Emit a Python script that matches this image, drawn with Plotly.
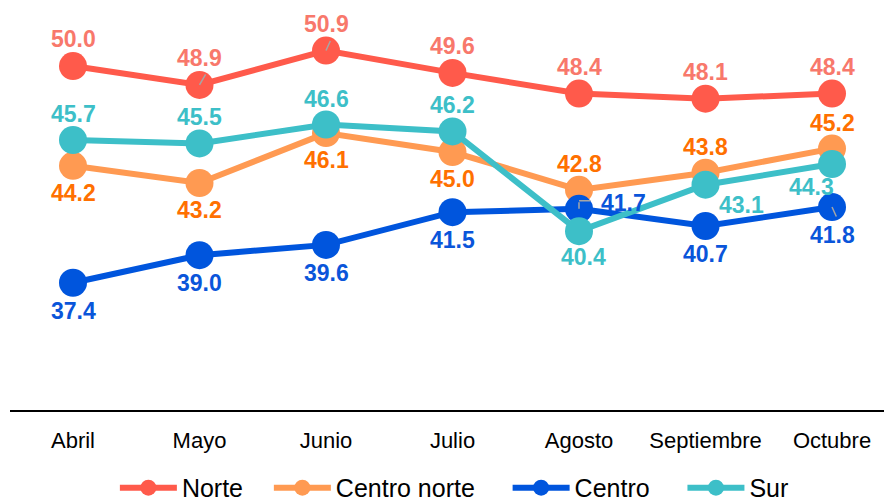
import plotly.graph_objects as go

months = ["Abril", "Mayo", "Junio", "Julio", "Agosto", "Septiembre", "Octubre"]
norte = [50.0, 48.9, 50.9, 49.6, 48.4, 48.1, 48.4]
centro_norte = [44.2, 43.2, 46.1, 45.0, 42.8, 43.8, 45.2]
centro = [37.4, 39.0, 39.6, 41.5, 41.7, 40.7, 41.8]
sur = [45.7, 45.5, 46.6, 46.2, 40.4, 43.1, 44.3]

series_names = ["Norte", "Centro norte", "Centro", "Sur"]
series_values = [norte, centro_norte, centro, sur]
line_colors = ["#FF5A4B", "#FF9A52", "#0055DD", "#3DBFC8"]
label_colors = ["#F8786B", "#FF7000", "#0A55DA", "#3DBFC8"]
legend_pad = [3, 4, 4, 3]

# label offsets (xshift, yshift) in px, per series, per month
label_offsets = [
    [(0, 27)] * 7,
    [(0, -27)] * 4 + [(0, 26)] * 3,
    [(0, -28)] * 4 + [(44, 6)] + [(0, -28)] * 2,
    [(0, 26)] * 4 + [(4, -26), (36, -20), (-21, -23)],
]

fig = go.Figure()
annotations = []
for name, vals, lc, tc, offs, pad in zip(series_names, series_values, line_colors,
                                         label_colors, label_offsets, legend_pad):
    fig.add_trace(go.Scatter(
        x=months, y=vals, name=name + "\u00a0" * pad, mode="lines+markers",
        line=dict(color=lc, width=6),
        marker=dict(color=lc, size=28),
        cliponaxis=False,
    ))
    for m, v, (dx, dy) in zip(months, vals, offs):
        annotations.append(dict(
            x=m, y=v, text=f"{v:.1f}", showarrow=False,
            xshift=dx, yshift=dy,
            font=dict(family="Liberation Sans, Arial", size=23, color=tc, weight="bold"),
        ))

# small gray leader lines
leaders = [
    ("Mayo", norte[1], 0, 7, -12),
    ("Junio", norte[2], 0, 5, -11),
    ("Agosto", centro[4], 0, 0, -8),
    ("Agosto", centro[4], 8, 13, 0),
    ("Octubre", centro[6], 0, 5, 11),
]
for m, v, ys, ax, ay in leaders:
    annotations.append(dict(
        x=m, y=v, text="", showarrow=True, arrowhead=0, arrowwidth=1.5,
        arrowcolor="#A6A6A6", ax=ax, ay=ay, yshift=ys, standoff=0,
    ))

fig.update_layout(
    width=884, height=503,
    margin=dict(l=10, r=0, t=0, b=93, autoexpand=False),
    paper_bgcolor="white", plot_bgcolor="white",
    font=dict(family="Liberation Sans, Arial", color="black"),
    showlegend=True,
    legend=dict(
        orientation="h", x=0.12, xanchor="left",
        yref="container", y=0.03, yanchor="middle",
        font=dict(size=25, color="black"),
        bgcolor="rgba(0,0,0,0)",
        itemwidth=57,
    ),
    xaxis=dict(
        type="category", range=[-0.498, 6.411],
        showline=True, linecolor="black", linewidth=2,
        showgrid=False, zeroline=False, automargin=False,
        ticks="", ticklabelstandoff=10,
        tickfont=dict(size=22, color="black"),
    ),
    yaxis=dict(
        range=[30, 53.84], visible=False, showgrid=False, zeroline=False,
        automargin=False,
    ),
    annotations=annotations,
)

fig.write_html(
    "out.html",
    config={"displayModeBar": False},
    post_script="document.body.style.margin='0px';document.body.style.overflow='hidden';",
)
